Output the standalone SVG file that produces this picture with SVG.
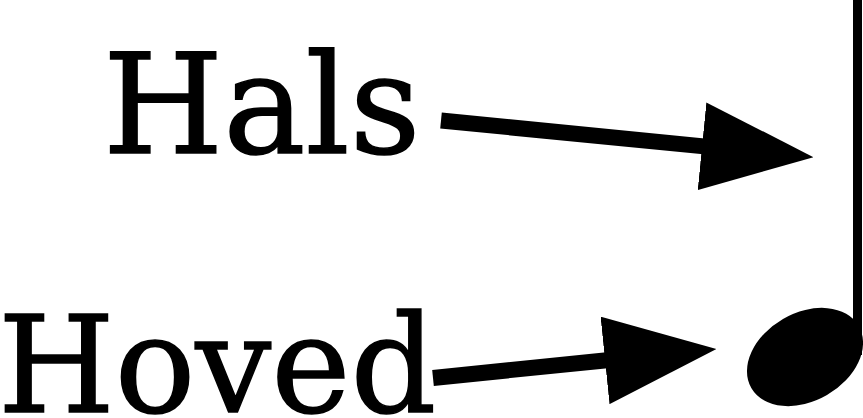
<svg xmlns="http://www.w3.org/2000/svg" width="863" height="418" viewBox="0 0 863 418">
<style>
.lbl{font-family:"DejaVu Serif",serif;font-size:138px;fill:#000;stroke:#000;stroke-width:1.5}
.conn{stroke:#000;stroke-width:16;fill:none}
</style>
<defs>
<marker id="ah" markerUnits="userSpaceOnUse" markerWidth="112" markerHeight="88" refX="2" refY="44" orient="auto" viewBox="0 0 112 88">
<path d="M0,0 L112,44 L0,88 z" fill="#000"/>
</marker>
</defs>
<rect width="863" height="418" fill="#fff"/>
<g id="note">
<rect x="853" y="0" width="9" height="355" fill="#000"/>
<ellipse cx="805" cy="357" rx="62" ry="44" transform="rotate(-30 805 357)" fill="#000"/>
</g>
<g id="hals"><text class="lbl" x="103" y="153">Hals</text></g>
<g id="hoved"><text class="lbl" x="-2" y="412" style="font-size:134px">Hoved</text></g>
<g id="connectors">
<line class="conn" x1="441" y1="120.5" x2="704" y2="146.4" marker-end="url(#ah)"/>
<line class="conn" x1="433" y1="378" x2="607" y2="360.2" marker-end="url(#ah)"/>
</g>
</svg>
